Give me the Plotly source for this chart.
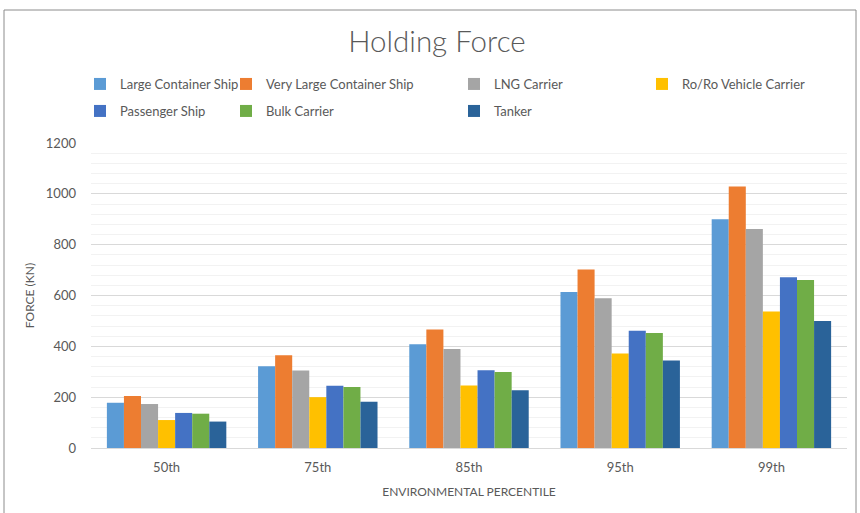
import plotly.graph_objects as go

categories = ["50th", "75th", "85th", "95th", "99th"]
series_names = ["Large Container Ship", "Very Large Container Ship", "LNG Carrier",
                "Ro/Ro Vehicle Carrier", "Passenger Ship", "Bulk Carrier", "Tanker"]
large_container = [178, 322, 408, 614, 900]
very_large_container = [205, 365, 466, 702, 1029]
lng_carrier = [173, 305, 390, 589, 862]
roro = [110, 200, 246, 372, 537]
passenger = [138, 245, 306, 461, 672]
bulk = [135, 240, 299, 452, 661]
tanker = [104, 182, 227, 344, 500]
values = [large_container, very_large_container, lng_carrier, roro, passenger, bulk, tanker]
colors = ["#5B9BD5", "#ED7D31", "#A5A5A5", "#FFC000", "#4472C4", "#70AD47", "#2A6399"]
y_ticks = [0, 200, 400, 600, 800, 1000, 1200]

FONT = "Lato, Open Sans, sans-serif"
TXT = "#595959"

L, R, T, B = 91, 13, 143, 65
W, H = 860, 513
pw, ph = W - L - R, H - T - B

fig = go.Figure()
# legend text start x (pixel), row center y (pixel)
leg_pos = [(120, 84), (266, 84), (494, 84), (682, 84), (120, 111), (266, 111), (494, 111)]
for i, (name, vals, col) in enumerate(zip(series_names, values, colors)):
    lname = "legend" if i == 0 else f"legend{i+1}"
    fig.add_trace(go.Bar(x=categories, y=vals, name=name, marker=dict(color=col, line=dict(width=0)),
                         legend=lname))
    px, py = leg_pos[i]
    fig.update_layout(**{lname: dict(
        x=(px - 40 - L) / pw, xanchor="left",
        y=(H - B - py) / ph, yanchor="middle",
        orientation="v", bgcolor="rgba(0,0,0,0)",
        font=dict(family=FONT, size=13, color=TXT),
        itemwidth=30, itemclick=False,
    )})

fig.update_layout(
    width=W, height=H,
    margin=dict(l=L, r=R, t=T, b=B),
    paper_bgcolor="white", plot_bgcolor="white",
    barmode="group", bargap=0.21, bargroupgap=0,
    title=dict(text="Holding Force", x=437 / W, xanchor="center", xref="container",
               y=1 - 42 / H, yanchor="middle", yref="container",
               font=dict(family="Lato Light, Lato, sans-serif", size=29.5, color=TXT, weight=300)),
    showlegend=True,
    font=dict(family=FONT, color=TXT),
)
fig.update_xaxes(
    showgrid=False, showline=True, linecolor="#D9D9D9", linewidth=1,
    ticks="", ticklabelstandoff=7, tickfont=dict(family=FONT, size=13, color=TXT),
    title=dict(text="ENVIRONMENTAL PERCENTILE", font=dict(family=FONT, size=12, color=TXT), standoff=14),
)
fig.update_yaxes(
    range=[0, 1200], tickvals=y_ticks, showgrid=True, gridcolor="#D9D9D9", gridwidth=1,
    minor=dict(dtick=40, showgrid=True, gridcolor="#F2F2F2", gridwidth=1),
    zeroline=False, showline=False, ticks="", ticklabelstandoff=14,
    tickfont=dict(family=FONT, size=13, color=TXT),
    title=dict(text="FORCE (KN)", font=dict(family=FONT, size=12, color=TXT), standoff=8),
)
# outer chart border
fig.add_shape(type="rect", xref="paper", yref="paper",
              x0=(4 - L) / pw, x1=(856 - L) / pw, y0=(H - B - 520) / ph, y1=(H - B - 10) / ph,
              line=dict(color="#8C8C8C", width=1), fillcolor="rgba(0,0,0,0)", layer="below")

fig.write_html("out.html", config={"displayModeBar": False},
               post_script="document.body.style.margin='0';document.body.style.overflow='hidden';")
